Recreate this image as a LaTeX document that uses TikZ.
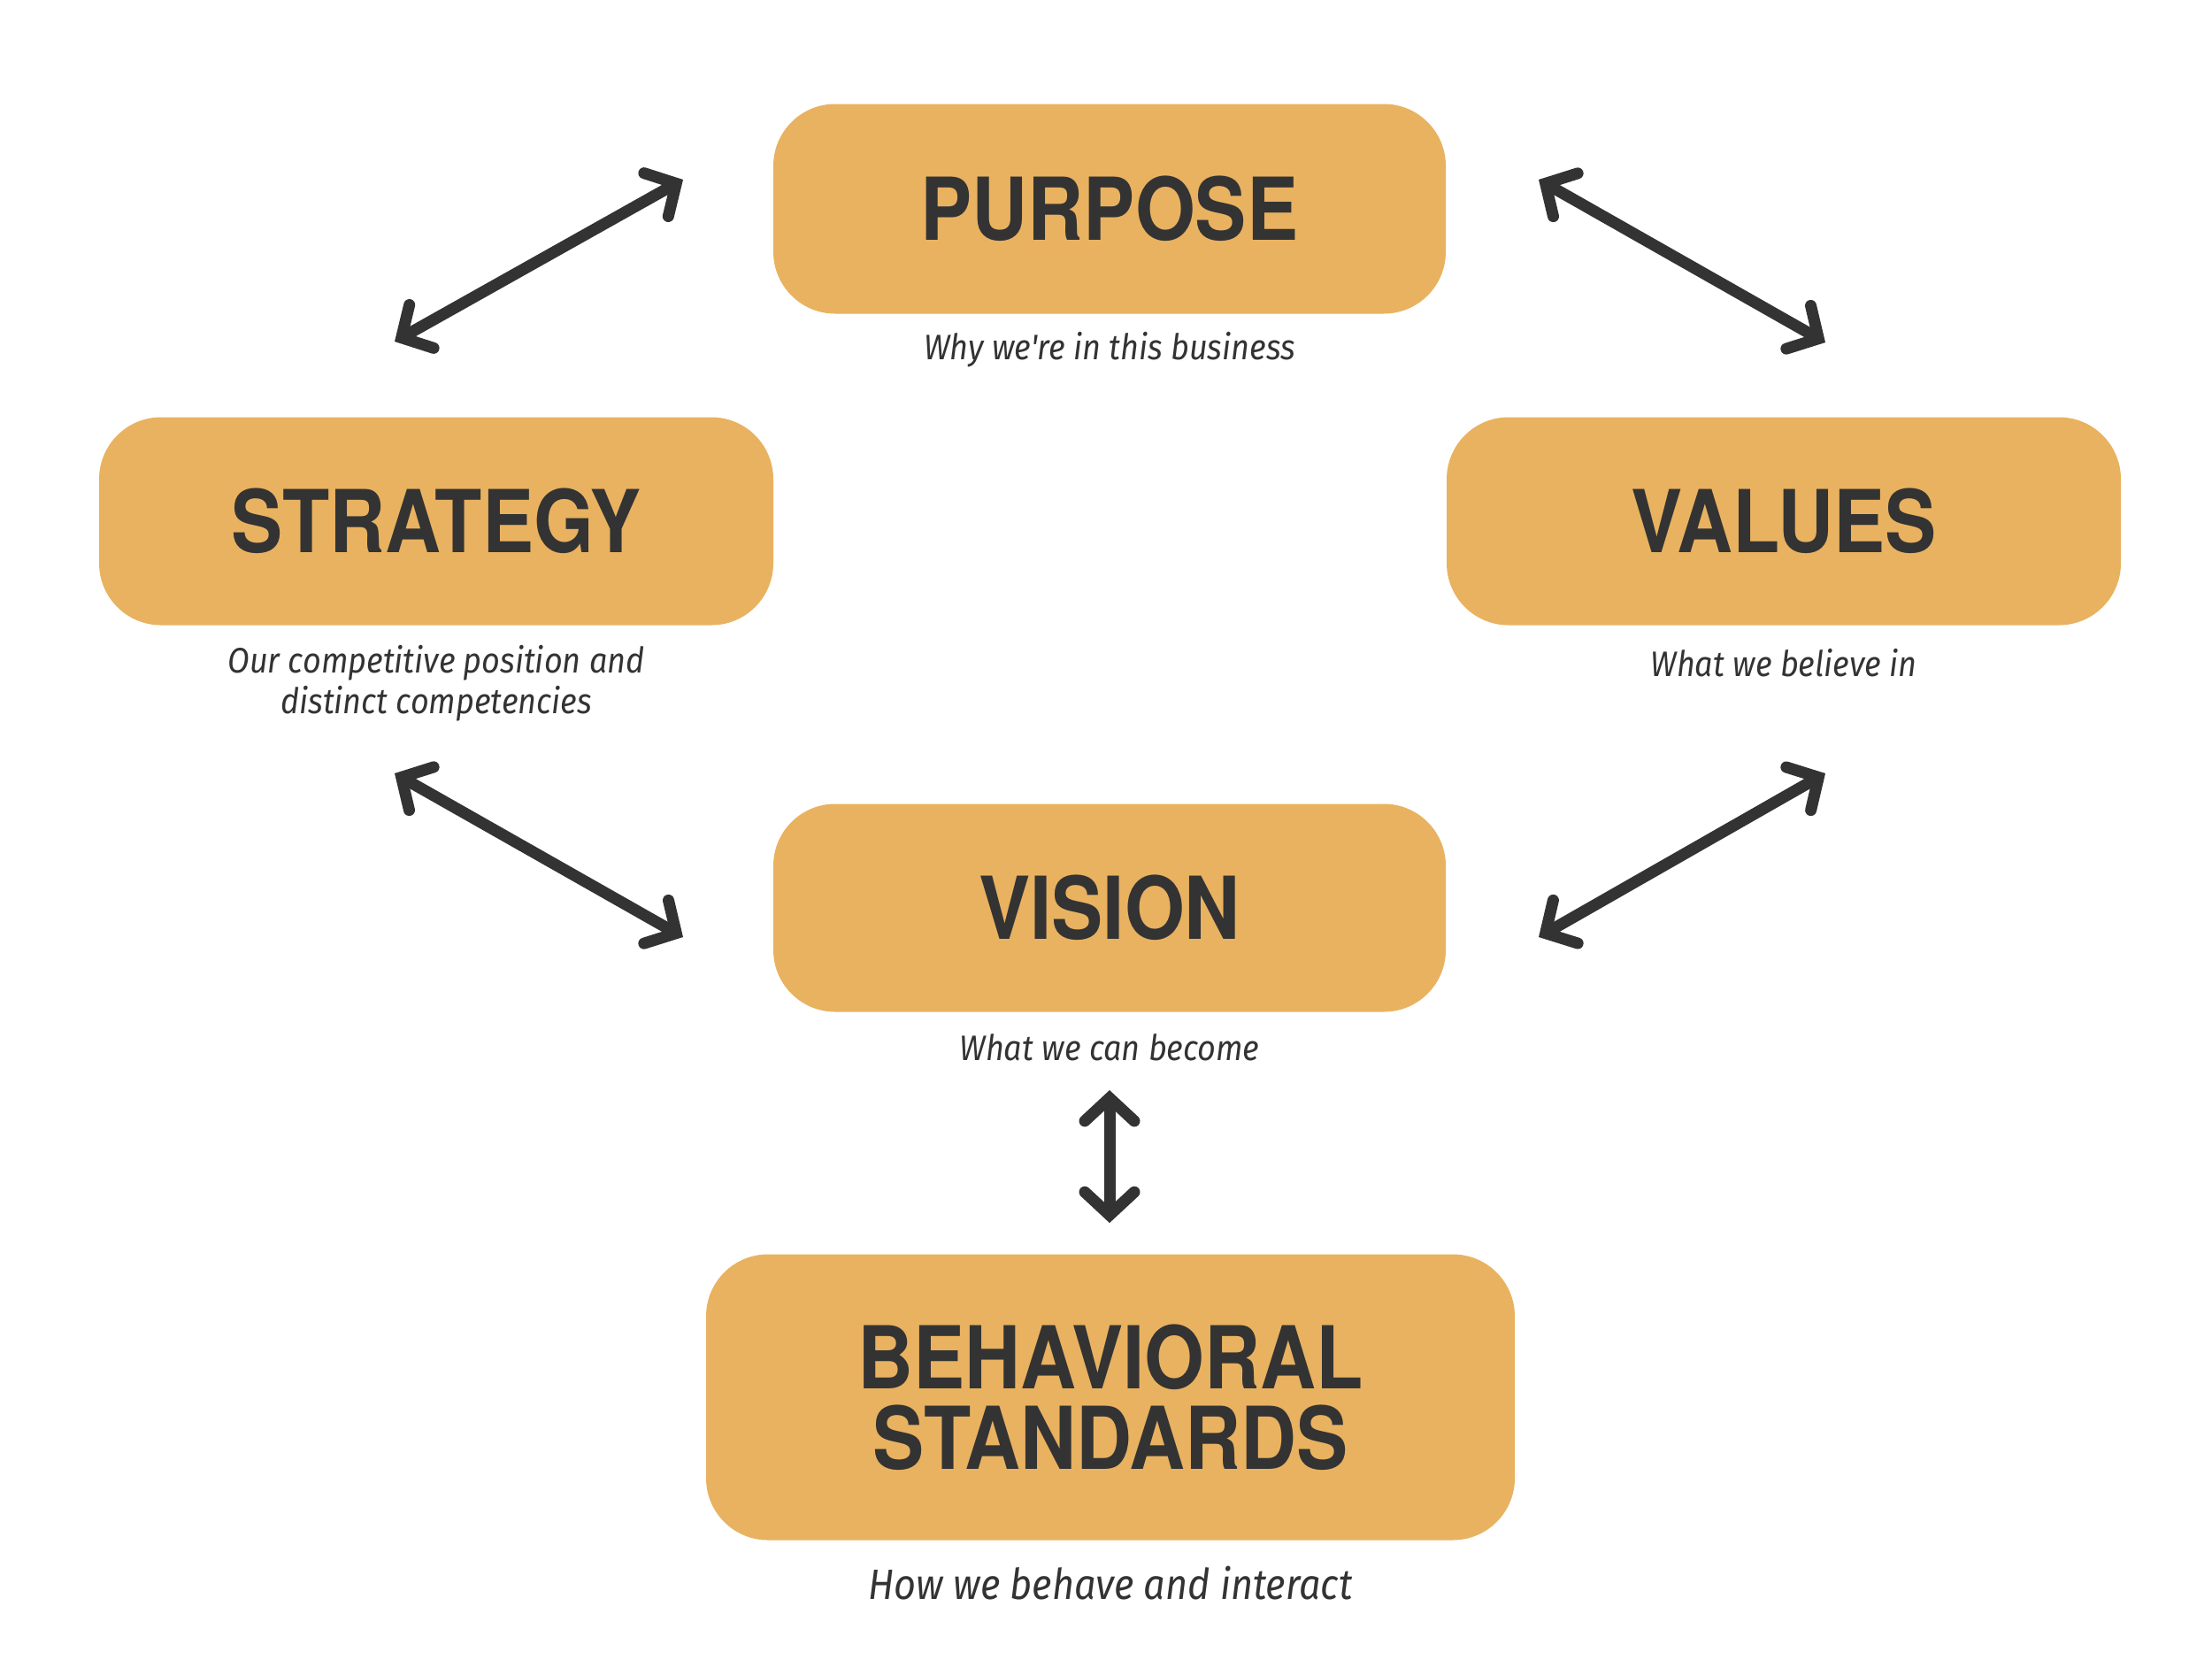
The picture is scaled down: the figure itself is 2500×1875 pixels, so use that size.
\documentclass[tikz,border=0pt]{standalone}
\usepackage{fontspec}
\usetikzlibrary{arrows.meta}
\newfontfamily\headfont[FakeStretch=0.89]{TeX Gyre Heros}
\newfontfamily\capfont[FakeStretch=0.9]{Fira Sans}
\definecolor{boxfill}{HTML}{E9B260}
\definecolor{ink}{HTML}{333333}
\tikzset{
  box/.style={fill=boxfill, draw=none, rounded corners=70pt, inner sep=0pt,
    text=ink, font=\headfont\bfseries\fontsize{98}{91}\selectfont, align=center},
  captext/.style={text=ink, font=\capfont\itshape\fontsize{40}{46}\selectfont, align=center, inner sep=0pt},
  link/.style={draw=ink, line width=13pt,
    {Straight Barb[length=26pt, width=56pt, line cap=round, line join=miter]}-{Straight Barb[length=26pt, width=56pt, line cap=round, line join=miter]}}
}
\begin{document}
\begin{tikzpicture}[x=1pt,y=-1pt]
\useasboundingbox[fill=white] (0,0) rectangle (2500,1875);
% boxes
\node[box, minimum width=760pt, minimum height=237pt] (purpose) at (1254,236) {PURPOSE};
\node[box, minimum width=762pt, minimum height=235pt] (strategy) at (493,589) {STRATEGY};
\node[box, minimum width=762pt, minimum height=235pt] (values) at (2016,589) {VALUES};
\node[box, minimum width=760pt, minimum height=235pt] (vision) at (1254,1026) {VISION};
\node[box, minimum width=914pt, minimum height=323pt] (behav) at (1255,1579) {BEHAVIORAL\\STANDARDS};
% captions
\node[captext] (cpurpose) at (1254,395) {Why we're in this business};
\node[captext] (cstrategy) at (493,772) {Our competitive position and\\distinct competencies};
\node[captext] (cvalues) at (2016,749) {What we believe in};
\node[captext] (cvision) at (1254,1184) {What we can become};
\node[captext, font=\capfont\itshape\fontsize{48}{58}\selectfont] (cbehav) at (1255,1789) {How we behave and interact};
% arrow end points
\coordinate (a1s) at (446,386);
\coordinate (a1e) at (772,203);
\coordinate (a2s) at (1739,203);
\coordinate (a2e) at (2063,387);
\coordinate (a3s) at (446,874);
\coordinate (a3e) at (772,1059);
\coordinate (a4s) at (2063,874);
\coordinate (a4e) at (1739,1059);
\coordinate (a5s) at (1254,1232);
\coordinate (a5e) at (1254,1382);
\draw[link] (a1s) -- (a1e);
\draw[link] (a2s) -- (a2e);
\draw[link] (a3s) -- (a3e);
\draw[link] (a4s) -- (a4e);
\draw[link] (a5s) -- (a5e);
\end{tikzpicture}
\end{document}
